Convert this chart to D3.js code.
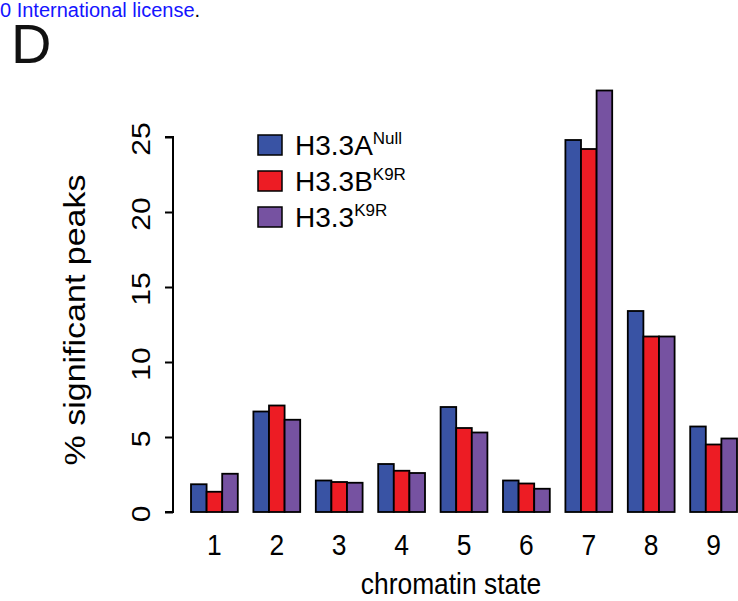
<!DOCTYPE html>
<html>
<head>
<meta charset="utf-8">
<script src="https://cdn.jsdelivr.net/npm/d3@7"></script>
<style>
  html, body { margin: 0; padding: 0; background: #fff; }
  svg { display: block; font-family: "Liberation Sans", Arial, Helvetica, sans-serif; }
</style>
</head>
<body>
<svg id="chart" width="738" height="601"></svg>
<script>
// Chromatin states on the x axis
const states = ["1", "2", "3", "4", "5", "6", "7", "8", "9"];

// Percent of significant peaks per state, one array per genotype
const h33aNull = [1.85, 6.7, 2.1, 3.2, 7.0, 2.1, 24.8, 13.4, 5.7];
const h33bK9R  = [1.35, 7.1, 2.0, 2.75, 5.6, 1.9, 24.2, 11.7, 4.5];
const h33K9R   = [2.55, 6.15, 1.95, 2.6, 5.3, 1.55, 28.1, 11.7, 4.9];

// Legend entries: base name and superscript
const seriesNames = ["H3.3A", "H3.3B", "H3.3"];
const seriesSups  = ["Null", "K9R", "K9R"];
const seriesColors = ["#3953A4", "#ED1C24", "#7652A1"];

const yTicks = [0, 5, 10, 15, 20, 25];

const series = [h33aNull, h33bK9R, h33K9R];

const svg = d3.select("#chart");
const sx = 0.88; // horizontal squeeze of the axis lettering

// Scales
const x0 = d3.scaleBand()
  .domain(states)
  .range([183.2, 744.8])
  .paddingInner(0.25)
  .paddingOuter(0.125);

const x1 = d3.scaleBand()
  .domain(d3.range(series.length))
  .range([0, x0.bandwidth()]);

const y = d3.scaleLinear().domain([0, 25]).range([512, 137]);

// Header fragment and panel letter
const hdr = svg.append("text")
  .attr("x", 0).attr("y", 17)
  .attr("font-size", 20);
hdr.append("tspan").attr("fill", "#1414ff").text("0 International license");
hdr.append("tspan").attr("fill", "#000").text(".");

svg.append("text")
  .attr("x", 11).attr("y", 63)
  .attr("font-size", 56)
  .attr("fill", "#111")
  .text("D");

// Bars
const groups = svg.append("g")
  .selectAll("g")
  .data(states)
  .join("g")
  .attr("transform", d => `translate(${x0(d)},0)`);

groups.selectAll("rect")
  .data((d, i) => series.map((s, k) => ({ k, v: s[i] })))
  .join("rect")
  .attr("x", d => x1(d.k))
  .attr("width", x1.bandwidth())
  .attr("y", d => y(d.v))
  .attr("height", d => y(0) - y(d.v))
  .attr("fill", d => seriesColors[d.k])
  .attr("stroke", "#000")
  .attr("stroke-width", 1.8);

// Y axis
const yAxis = d3.axisLeft(y)
  .tickValues(yTicks)
  .tickSize(8)
  .tickFormat(d3.format("d"));

const ya = svg.append("g")
  .attr("transform", "translate(173,0)")
  .call(yAxis);
ya.select(".domain").attr("stroke-width", 2).attr("d", `M-8,${y(0)}H0V${y(25)}H-8`);
ya.selectAll(".tick line").attr("stroke-width", 2);
ya.selectAll(".tick text").remove();

svg.append("g").selectAll("text")
  .data(yTicks)
  .join("text")
  .attr("transform", d => `translate(150,${y(d) + 2}) scale(${sx},1) rotate(-90)`)
  .attr("text-anchor", "middle")
  .attr("font-size", 30)
  .attr("fill", "#000")
  .text(d => d);

// X tick labels
svg.append("g").selectAll("text")
  .data(states)
  .join("text")
  .attr("transform", d => `translate(${x0(d) + x0.bandwidth() / 2},555) scale(${sx},1)`)
  .attr("text-anchor", "middle")
  .attr("font-size", 30)
  .attr("fill", "#000")
  .text(d => d);

// Axis titles
svg.append("text")
  .attr("transform", `translate(451,594) scale(${sx},1)`)
  .attr("text-anchor", "middle")
  .attr("font-size", 30)
  .attr("fill", "#000")
  .text("chromatin state");

svg.append("text")
  .attr("transform", `translate(85,320) scale(${sx},1) rotate(-90)`)
  .attr("text-anchor", "middle")
  .attr("font-size", 34)
  .attr("fill", "#000")
  .text("% significant peaks");

// Legend
const legend = svg.append("g").attr("transform", "translate(258,135)");
const li = legend.selectAll("g")
  .data(d3.range(series.length))
  .join("g")
  .attr("transform", k => `translate(0,${k * 36})`);

li.append("rect")
  .attr("width", 24).attr("height", 20)
  .attr("fill", k => seriesColors[k])
  .attr("stroke", "#000")
  .attr("stroke-width", 1.5);

const lt = li.append("text")
  .attr("x", 37).attr("y", 20)
  .attr("font-size", 28)
  .attr("fill", "#000");
lt.append("tspan").text(k => seriesNames[k]);
lt.append("tspan")
  .attr("font-size", 17)
  .attr("dy", -11)
  .text(k => seriesSups[k]);
</script>
</body>
</html>
